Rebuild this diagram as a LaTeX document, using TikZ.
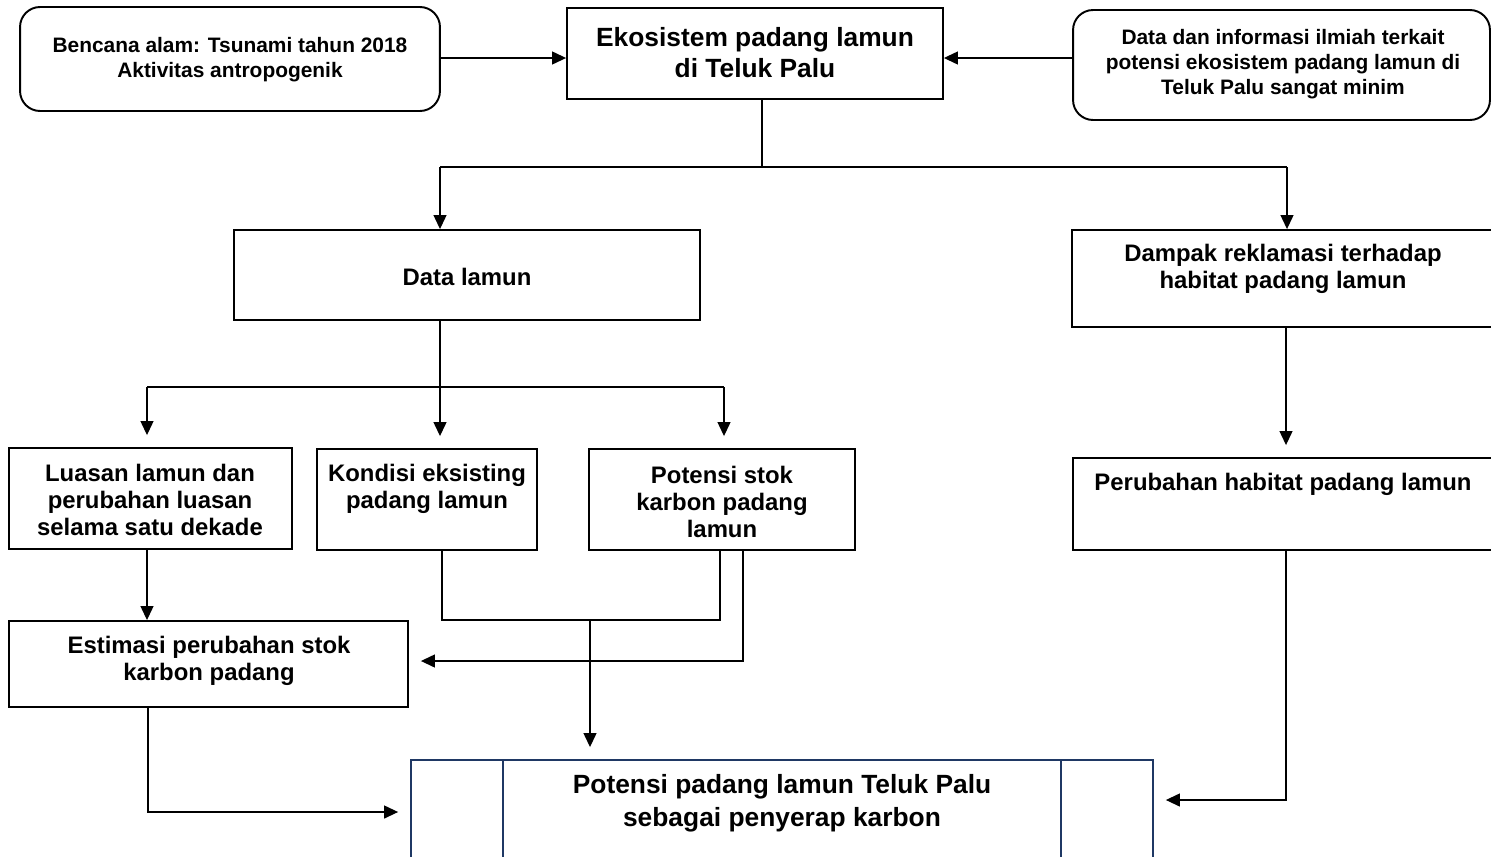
\documentclass[tikz,border=0pt]{standalone}
\usepackage{fontspec}
\setmainfont{Liberation Sans}
\usetikzlibrary{arrows.meta}

\definecolor{navy}{RGB}{31,56,100}

\tikzset{
    kotak/.style={draw=black, line width=1.1pt, inner sep=0pt, fill=white},
    bulat/.style={kotak, rounded corners=0.4cm},
    teks/.style={align=center, inner sep=0pt, font=\bfseries},
    kecil/.style={teks, font=\bfseries\fontsize{11.9pt}{14.2pt}\selectfont},
    sedang/.style={teks, font=\bfseries\fontsize{13.6pt}{15.3pt}\selectfont},
    besar/.style={teks, font=\bfseries\fontsize{15pt}{17.6pt}\selectfont},
    garis/.style={line width=0.7pt},
    panah/.style={garis, -{Triangle[length=0.28cm,width=0.26cm]}},
    celah/.style={shorten >=0.24cm}
}

\begin{document}
\begin{tikzpicture}[x=0.02cm, y=-0.02cm]
            \clip (0,0) rectangle (1491,856);

            % Kotak atas
            \node[bulat, minimum width=8.4cm, minimum height=2.08cm] (bencana) at (230,59) {};
            \node[kecil] (bencanaT) at (230,60) {Bencana alam: Tsunami tahun 2018\\Aktivitas antropogenik};
            \node[kotak, minimum width=7.52cm, minimum height=1.82cm] (ekosistem) at (755,53.5) {};
            \node[besar] (ekosistemT) at (755,53) {Ekosistem padang lamun\\di Teluk Palu};
            \node[bulat, minimum width=8.34cm, minimum height=2.2cm] (dataInfo) at (1281.5,65) {};
            \node[kecil] (dataInfoT) at (1283,64) {Data dan informasi ilmiah terkait\\potensi ekosistem padang lamun di\\Teluk Palu sangat minim};

            % Kotak tengah
            \node[kotak, minimum width=9.32cm, minimum height=1.8cm] (dataLamun) at (467,275) {};
            \node[sedang] (dataLamunT) at (467,277) {Data lamun};
            \node[kotak, minimum width=8.56cm, minimum height=1.94cm] (dampak) at (1286,278.5) {};
            \node[sedang] (dampakT) at (1283,269) {Dampak reklamasi terhadap\\habitat padang lamun};

            % Kotak bawah
            \node[kotak, minimum width=5.66cm, minimum height=2.02cm] (luasan) at (150.5,498.5) {};
            \node[sedang] (luasanT) at (150,500) {Luasan lamun dan\\perubahan luasan\\selama satu dekade};
            \node[kotak, minimum width=4.4cm, minimum height=2.02cm] (kondisi) at (427,499.5) {};
            \node[sedang] (kondisiT) at (427,489) {Kondisi eksisting\\padang lamun};
            \node[kotak, minimum width=5.32cm, minimum height=2.02cm] (stok) at (722,499.5) {};
            \node[sedang] (stokT) at (722,502) {Potensi stok\\karbon padang\\lamun};
            \node[kotak, minimum width=8.54cm, minimum height=1.84cm] (perubahan) at (1286.5,504) {};
            \node[sedang] (perubahanT) at (1283,484) {Perubahan habitat padang lamun};
            \node[kotak, minimum width=7.98cm, minimum height=1.72cm] (estimasi) at (208.5,664) {};
            \node[sedang] (estimasiT) at (209,661) {Estimasi perubahan stok\\karbon padang};

            % Kotak hasil
            \node[kotak, draw=navy, minimum width=14.84cm, minimum height=2.4cm] (hasil) at (782,820) {};
            \draw[navy, line width=1.1pt] (503,760) -- (503,880);
            \draw[navy, line width=1.1pt] (1061,760) -- (1061,880);
            \node[besar, font=\bfseries\fontsize{15pt}{18.7pt}\selectfont] (hasilT) at (782,803) {Potensi padang lamun Teluk Palu\\sebagai penyerap karbon};

            % Titik cabang
            \coordinate (cabangA) at (762,167);
            \coordinate (kiriA) at (440,167);
            \coordinate (kananA) at (1287,167);
            \coordinate (cabangB) at (440,387);
            \coordinate (kiriB) at (147,387);
            \coordinate (kananB) at (724,387);
            \coordinate (gabungKiri) at (442,620);
            \coordinate (gabungKanan) at (720,620);
            \coordinate (gabung) at (590,620);
            \coordinate (stokKeluar) at (743,661);
            \coordinate (estKeluar) at (148,812);
            \coordinate (ubahKeluar) at (1286,800);

            % Panah atas
            \draw[panah] (bencana.east |- 0,58) -- (ekosistem.west |- 0,58);
            \draw[panah] (dataInfo.west |- 0,58) -- (ekosistem.east |- 0,58);
            \draw[garis] (cabangA |- ekosistem.south) -- (cabangA);
            \draw[garis] (kiriA) -- (kananA);
            \draw[panah] (kiriA) -- (kiriA |- dataLamun.north);
            \draw[panah] (kananA) -- (kananA |- dampak.north);

            % Panah data lamun
            \draw[garis] (cabangB |- dataLamun.south) -- (cabangB);
            \draw[garis] (kiriB) -- (kananB);
            \draw[panah, celah] (kiriB) -- (kiriB |- luasan.north);
            \draw[panah, celah] (cabangB) -- (cabangB |- kondisi.north);
            \draw[panah, celah] (kananB) -- (kananB |- stok.north);
            \draw[panah] (luasan.south -| kiriB) -- (estimasi.north -| kiriB);

            % Gabungan kondisi dan stok
            \draw[garis] (gabungKiri |- kondisi.south) -- (gabungKiri) -- (gabungKanan) -- (gabungKanan |- stok.south);
            \draw[panah, celah] (gabung) -- (gabung |- hasil.north);
            \draw[panah, celah] (stokKeluar |- stok.south) -- (stokKeluar) -- (stokKeluar -| estimasi.east);
            \draw[panah, celah] (estKeluar |- estimasi.south) -- (estKeluar) -- (estKeluar -| hasil.west);

            % Panah kanan
            \draw[panah, celah] (dampak.south -| ubahKeluar) -- (perubahan.north -| ubahKeluar);
            \draw[panah, celah] (ubahKeluar |- perubahan.south) -- (ubahKeluar) -- (ubahKeluar -| hasil.east);
        \end{tikzpicture}
\end{document}
